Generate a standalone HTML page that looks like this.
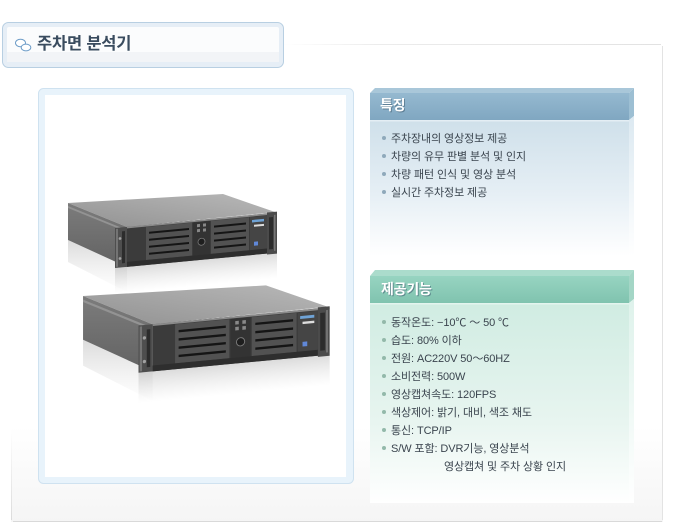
<!DOCTYPE html>
<html><head><meta charset="utf-8">
<style>
*{margin:0;padding:0;box-sizing:border-box}
body{width:674px;height:524px;overflow:hidden;background:#fff;position:relative;font-family:"Liberation Sans","Noto Sans CJK KR",sans-serif}
.a{position:absolute}
.title{left:37px;top:33px;font-size:16.5px;font-weight:bold;color:#3a4c5f;line-height:22px;letter-spacing:-0.2px;font-family:"Liberation Sans","Noto Sans CJK KR",sans-serif}
.hd{font-size:14px;font-weight:bold;color:#fff;line-height:16px;text-shadow:1px 1px 0 rgba(60,90,110,.55);letter-spacing:-0.2px}
.list{font-size:11px;line-height:18px;color:#3a444e;letter-spacing:-0.1px;white-space:nowrap}
.list div{height:18px}
.b{display:inline-block;width:4px;height:4px;border-radius:50%;background:#8fa9bb;margin-right:5px;vertical-align:middle;position:relative;top:-1px}
.g .b{background:#93b9aa}
</style></head><body>
<svg class="a" style="left:0;top:0" width="674" height="524" viewBox="0 0 674 524">
<defs>
<linearGradient id="pb" x1="0" y1="0" x2="0" y2="1"><stop offset="0" stop-color="#fff"/><stop offset="0.8" stop-color="#fff"/><stop offset="1" stop-color="#f5f5f5"/></linearGradient>
<linearGradient id="lf" x1="0" y1="0" x2="0" y2="1"><stop offset="0" stop-color="#e4e4e4" stop-opacity="0"/><stop offset="1" stop-color="#dcdcdc"/></linearGradient>
<linearGradient id="tf" x1="0" y1="0" x2="1" y2="0"><stop offset="0" stop-color="#ececec" stop-opacity="0"/><stop offset="0.25" stop-color="#ececec"/><stop offset="1" stop-color="#e2e2e2"/></linearGradient>
<linearGradient id="bh" x1="0" y1="0" x2="0" y2="1"><stop offset="0" stop-color="#95b9d0"/><stop offset="1" stop-color="#80a7c1"/></linearGradient>
<linearGradient id="bc" x1="0" y1="0" x2="0" y2="1"><stop offset="0" stop-color="#cfe0ea"/><stop offset="0.55" stop-color="#e6eff5"/><stop offset="1" stop-color="#fff"/></linearGradient>
<linearGradient id="bs" x1="0" y1="0" x2="0" y2="1"><stop offset="0" stop-color="#dce9f1"/><stop offset="1" stop-color="#fff"/></linearGradient>
<linearGradient id="gh" x1="0" y1="0" x2="0" y2="1"><stop offset="0" stop-color="#97d4c1"/><stop offset="1" stop-color="#80c3af"/></linearGradient>
<linearGradient id="gc" x1="0" y1="0" x2="0" y2="1"><stop offset="0" stop-color="#d0ece2"/><stop offset="0.6" stop-color="#e8f5f0"/><stop offset="1" stop-color="#fff"/></linearGradient>
<linearGradient id="gs" x1="0" y1="0" x2="0" y2="1"><stop offset="0" stop-color="#def2eb"/><stop offset="1" stop-color="#fff"/></linearGradient>
<linearGradient id="top" x1="0" y1="1" x2="1" y2="0"><stop offset="0" stop-color="#929292"/><stop offset="1" stop-color="#b8b8b8"/></linearGradient>
<linearGradient id="side" x1="0" y1="0" x2="0" y2="1"><stop offset="0" stop-color="#7c7c7c"/><stop offset="1" stop-color="#626262"/></linearGradient>
<linearGradient id="refl" x1="0" y1="0" x2="0" y2="1"><stop offset="0" stop-color="#999" stop-opacity="0.35"/><stop offset="1" stop-color="#bbb" stop-opacity="0"/></linearGradient>
<g id="srv">
  <polygon points="68,240 127,267 127,292 68,262" fill="url(#refl)"/>
  <g transform="matrix(1,-0.095,0,1,115,268)"><rect x="0" y="0" width="162" height="26" fill="url(#refl)"/></g>
  <polygon points="68,203 223,194 275,212 127,227" fill="url(#top)"/>
  <polygon points="127,227 275,212 277,213.5 127,229" fill="#c9c9c9"/>
  <polygon points="68,203 127,227 127,267 68,240" fill="url(#side)"/>
  <polygon points="68,206 127,230 127,232 68,208" fill="#939393"/>
  <g transform="matrix(1,-0.095,0,1,115,228)">
    <rect x="12" y="0" width="142" height="40" fill="#3b3b3b"/>
    <rect x="12" y="0" width="150" height="1.5" fill="#8a8a8a"/>
    <rect x="0" y="0" width="12" height="40" fill="#4e4e4e"/>
    <rect x="1" y="1" width="2" height="38" fill="#747474"/>
    <rect x="7" y="4" width="3" height="32" fill="#2c2c2c"/>
    <circle cx="5" cy="11" r="1.4" fill="#a0a0a0"/>
    <circle cx="5" cy="31" r="1.4" fill="#a0a0a0"/>
    <rect x="31" y="2" width="46" height="33" fill="#525252"/>
    <rect x="34" y="7" width="40" height="2" fill="#151515"/>
    <rect x="34" y="14" width="40" height="2" fill="#151515"/>
    <rect x="34" y="21" width="40" height="2" fill="#151515"/>
    <rect x="34" y="28" width="40" height="2" fill="#151515"/>
    <rect x="78" y="2" width="17" height="33" fill="#333"/>
    <rect x="82" y="4" width="3" height="3" fill="#888"/><rect x="88" y="4" width="3" height="3" fill="#888"/>
    <rect x="82" y="9" width="3" height="3" fill="#888"/><rect x="88" y="9" width="3" height="3" fill="#888"/>
    <circle cx="86.5" cy="22" r="3.5" fill="#1e1e1e" stroke="#7a7a7a" stroke-width="0.8"/>
    <rect x="96" y="2" width="38" height="33" fill="#525252"/>
    <rect x="99" y="7" width="32" height="2" fill="#151515"/>
    <rect x="99" y="14" width="32" height="2" fill="#151515"/>
    <rect x="99" y="21" width="32" height="2" fill="#151515"/>
    <rect x="99" y="28" width="32" height="2" fill="#151515"/>
    <rect x="135" y="2" width="17" height="33" fill="#454545"/>
    <rect x="137" y="5" width="12" height="2.5" fill="#6fa3d6"/>
    <rect x="139" y="10" width="10" height="2" fill="#ddd"/>
    <rect x="139" y="27" width="4" height="4" fill="#6088d8"/>
    <rect x="12" y="35" width="142" height="5" fill="#2e2e2e"/>
    <rect x="152" y="-1" width="10" height="42" fill="#4b4b4b"/>
    <rect x="154" y="4" width="4" height="32" fill="#2c2c2c"/>
    <rect x="159" y="2" width="1.5" height="36" fill="#777"/>
  </g>
</g>
</defs>

<rect x="11" y="44" width="652" height="478" fill="url(#pb)"/>
<rect x="283" y="44" width="378" height="1" fill="url(#tf)"/>
<rect x="662" y="46" width="1" height="474" fill="#e3e3e3"/>
<rect x="13" y="521" width="649" height="1" fill="#d9d9d9"/>
<rect x="11" y="430" width="1" height="90" fill="url(#lf)"/>

<rect x="2.5" y="22.5" width="281" height="45" rx="6" fill="#e6eef6" stroke="#b8cfe2"/>
<rect x="7" y="27" width="272" height="35" rx="2" fill="#fbfcfd"/>
<rect x="7" y="52" width="272" height="10" fill="#f2f4f7"/>
<g fill="#fff" stroke="#6e9dc8" stroke-width="1">
<ellipse cx="20.5" cy="43" rx="5" ry="3.8"/>
<ellipse cx="26" cy="47.5" rx="4.8" ry="3.4"/>
</g>

<rect x="38.5" y="88.5" width="315" height="395" rx="5" fill="#e8f3fb" stroke="#cfe2f0"/>
<rect x="45" y="95" width="301" height="382" fill="#fff"/>
<use href="#srv"/>
<use href="#srv" transform="translate(2.8,56.5) scale(1.18)"/>

<polygon points="370,93 375,88 634,88 629,93" fill="#a9c7d9"/>
<rect x="370" y="93" width="259" height="27" fill="url(#bh)"/>
<polygon points="629,93 634,88 634,116 629,120" fill="#9dbfd3"/>
<rect x="370" y="120" width="259" height="136" fill="url(#bc)"/>
<rect x="370" y="120" width="259" height="1.5" fill="#e4eef4"/>
<polygon points="629,120 634,116 634,256 629,256" fill="url(#bs)"/>

<polygon points="370,276 375,270 634,270 629,276" fill="#abdccc"/>
<rect x="370" y="276" width="259" height="27" fill="url(#gh)"/>
<polygon points="629,276 634,270 634,299 629,303" fill="#a4d6c6"/>
<rect x="370" y="303" width="259" height="200" fill="url(#gc)"/>
<rect x="370" y="303" width="259" height="1.5" fill="#e3f4ee"/>
<polygon points="629,303 634,299 634,503 629,503" fill="url(#gs)"/>
</svg>

<div class="a title">주차면 분석기</div>

<div class="a hd" style="left:380px;top:97px">특징</div>
<div class="a list" style="left:382px;top:130px">
<div><span class="b"></span>주차장내의 영상정보 제공</div>
<div><span class="b"></span>차량의 유무 판별 분석 및 인지</div>
<div><span class="b"></span>차량 패턴 인식 및 영상 분석</div>
<div><span class="b"></span>실시간 주차정보 제공</div>
</div>

<div class="a hd" style="left:381px;top:281px">제공기능</div>
<div class="a list g" style="left:382px;top:314px">
<div><span class="b"></span>동작온도: −10℃ ～ 50 ℃</div>
<div><span class="b"></span>습도: 80% 이하</div>
<div><span class="b"></span>전원: AC220V 50～60HZ</div>
<div><span class="b"></span>소비전력: 500W</div>
<div><span class="b"></span>영상캡쳐속도: 120FPS</div>
<div><span class="b"></span>색상제어: 밝기, 대비, 색조 채도</div>
<div><span class="b"></span>통신: TCP/IP</div>
<div><span class="b"></span>S/W 포함: DVR기능, 영상분석</div>
<div style="padding-left:62px">영상캡쳐 및 주차 상황 인지</div>
</div>
</body></html>
